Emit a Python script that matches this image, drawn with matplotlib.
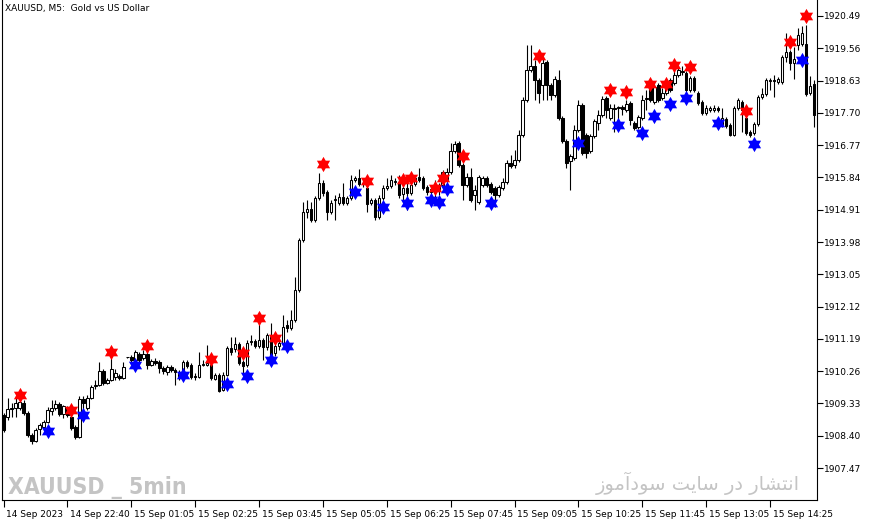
import matplotlib
matplotlib.use("Agg")
import matplotlib.pyplot as plt
import matplotlib.path as mpath
from matplotlib import font_manager
from matplotlib.transforms import ScaledTranslation
import numpy as np

# XAUUSD M5 bars
opens = [
    1909.00, 1908.94, 1909.17, 1909.20, 1909.20, 1909.34, 1909.06, 1908.42, 1908.25, 1908.60,
    1908.65, 1908.80, 1909.11, 1909.20, 1909.31, 1909.03, 1909.20, 1908.94, 1908.65, 1908.36,
    1909.46, 1909.20, 1909.49, 1909.84, 1909.86, 1910.27, 1909.92, 1910.01, 1910.09, 1910.12,
    1910.06, 1910.67, 1910.67, 1910.58, 1910.76, 1910.64, 1910.76, 1910.44, 1910.55, 1910.52,
    1910.35, 1910.24, 1910.38, 1910.29, 1910.24, 1910.24, 1910.52, 1910.44, 1910.12, 1910.09,
    1910.44, 1910.44, 1910.44, 1910.04, 1910.15, 1909.72, 1910.15, 1910.93, 1910.90, 1911.04,
    1910.52, 1910.44, 1911.10, 1911.13, 1910.99, 1911.16, 1910.96, 1911.30, 1910.79, 1910.99,
    1911.07, 1911.59, 1911.50, 1911.73, 1912.60, 1914.04, 1914.85, 1914.93, 1914.61, 1915.25,
    1915.68, 1915.42, 1914.85, 1915.19, 1915.10, 1915.27, 1915.10, 1915.25, 1915.77, 1915.82,
    1915.68, 1915.53, 1915.10, 1915.19, 1914.70, 1915.25, 1915.53, 1915.59, 1915.71, 1915.71,
    1915.36, 1915.53, 1915.39, 1915.65, 1915.85, 1915.82, 1915.56, 1915.42, 1915.62, 1915.48,
    1915.62, 1915.77, 1916.00, 1916.60, 1916.83, 1916.20, 1915.62, 1915.85, 1915.33, 1915.13,
    1915.62, 1915.82, 1915.65, 1915.53, 1915.33, 1915.53, 1915.71, 1916.26, 1916.20, 1916.34,
    1917.06, 1918.07, 1918.93, 1919.05, 1918.65, 1918.50, 1919.16, 1918.50, 1918.21, 1918.65,
    1917.55, 1916.89, 1916.31, 1916.40, 1917.21, 1917.93, 1917.06, 1916.60, 1917.03, 1917.41,
    1917.64, 1918.13, 1917.55, 1917.84, 1917.84, 1917.87, 1917.78, 1917.98, 1917.41, 1917.29,
    1917.55, 1918.10, 1918.50, 1918.01, 1918.50, 1918.13, 1918.27, 1918.65, 1918.56, 1918.79,
    1918.91, 1918.85, 1918.36, 1918.70, 1918.27, 1918.01, 1917.70, 1917.78, 1917.78, 1917.84,
    1917.35, 1917.52, 1917.35, 1917.06, 1917.84, 1918.01, 1917.55, 1917.15, 1917.12, 1917.38,
    1918.16, 1918.24, 1918.62, 1918.65, 1918.59, 1918.59, 1919.31, 1919.45, 1919.14, 1919.65,
    1919.68, 1919.68, 1918.27, 1918.53,
]
highs = [
    1909.06, 1909.49, 1909.34, 1909.49, 1909.52, 1909.43, 1909.11, 1908.48, 1908.62, 1908.77,
    1908.85, 1909.23, 1909.43, 1909.43, 1909.37, 1909.29, 1909.26, 1909.00, 1908.71, 1909.55,
    1909.55, 1909.57, 1909.86, 1910.01, 1910.53, 1910.32, 1910.06, 1910.64, 1910.32, 1910.18,
    1910.53, 1910.67, 1910.73, 1910.87, 1910.81, 1910.87, 1910.87, 1910.61, 1910.64, 1910.58,
    1910.41, 1910.44, 1910.44, 1910.35, 1910.29, 1910.58, 1910.58, 1910.50, 1910.21, 1910.81,
    1910.58, 1911.01, 1910.50, 1910.21, 1910.21, 1910.24, 1910.99, 1911.24, 1911.24, 1911.10,
    1910.58, 1911.16, 1911.30, 1911.19, 1911.65, 1911.22, 1911.36, 1911.65, 1911.07, 1911.22,
    1911.88, 1911.73, 1912.02, 1912.97, 1914.10, 1915.13, 1915.19, 1915.13, 1915.30, 1915.97,
    1915.77, 1915.48, 1915.19, 1915.33, 1915.39, 1915.68, 1915.30, 1915.91, 1915.88, 1916.08,
    1915.77, 1915.59, 1915.25, 1915.25, 1915.33, 1915.62, 1915.82, 1915.91, 1915.82, 1915.91,
    1915.77, 1915.68, 1915.71, 1915.91, 1916.11, 1915.88, 1915.62, 1915.59, 1915.77, 1915.68,
    1916.05, 1916.11, 1916.83, 1916.89, 1916.89, 1916.26, 1915.97, 1916.11, 1915.62, 1915.91,
    1915.88, 1915.88, 1915.71, 1915.59, 1915.62, 1915.82, 1916.34, 1916.49, 1916.63, 1917.21,
    1918.16, 1919.65, 1919.65, 1919.22, 1918.70, 1919.28, 1919.22, 1918.56, 1918.76, 1918.93,
    1917.61, 1916.95, 1916.52, 1917.35, 1918.07, 1917.98, 1917.12, 1917.09, 1917.52, 1917.78,
    1918.19, 1918.19, 1917.96, 1917.96, 1917.90, 1917.93, 1918.07, 1918.04, 1917.47, 1917.64,
    1918.21, 1918.36, 1918.56, 1918.53, 1918.56, 1918.42, 1918.65, 1918.70, 1918.93, 1919.05,
    1919.05, 1918.91, 1918.76, 1918.76, 1918.33, 1918.07, 1917.93, 1917.90, 1917.93, 1917.90,
    1917.84, 1917.58, 1917.41, 1917.90, 1918.13, 1918.07, 1917.61, 1917.21, 1917.44, 1918.21,
    1918.42, 1918.70, 1918.70, 1918.79, 1918.73, 1919.37, 1920.00, 1919.51, 1919.60, 1920.14,
    1920.20, 1920.23, 1918.76, 1918.65,
]
lows = [
    1908.51, 1908.85, 1908.94, 1908.94, 1909.14, 1909.00, 1908.36, 1908.16, 1908.22, 1908.42,
    1908.62, 1908.77, 1909.00, 1909.14, 1908.97, 1908.91, 1908.94, 1908.57, 1908.31, 1908.34,
    1909.14, 1909.14, 1909.46, 1909.75, 1909.84, 1909.86, 1909.89, 1909.98, 1910.01, 1910.01,
    1910.04, 1910.64, 1910.52, 1910.44, 1910.52, 1910.58, 1910.32, 1910.41, 1910.44, 1910.21,
    1910.18, 1910.15, 1910.24, 1909.86, 1910.01, 1910.18, 1910.35, 1910.04, 1910.01, 1910.06,
    1910.41, 1910.41, 1910.01, 1910.01, 1909.66, 1909.69, 1910.12, 1910.73, 1910.81, 1910.44,
    1910.15, 1910.38, 1911.01, 1910.93, 1910.93, 1910.58, 1910.87, 1910.67, 1910.70, 1910.87,
    1911.01, 1911.39, 1911.45, 1911.68, 1912.54, 1913.98, 1914.67, 1914.56, 1914.56, 1915.19,
    1915.30, 1914.61, 1914.79, 1914.61, 1915.04, 1915.04, 1915.04, 1915.19, 1915.71, 1915.59,
    1915.56, 1914.85, 1915.04, 1914.61, 1914.64, 1915.19, 1915.48, 1915.53, 1915.62, 1915.25,
    1915.19, 1914.90, 1915.33, 1915.59, 1915.71, 1915.48, 1915.33, 1915.13, 1915.27, 1915.33,
    1915.56, 1915.71, 1915.94, 1916.54, 1916.14, 1915.19, 1915.56, 1915.13, 1914.90, 1915.07,
    1915.56, 1915.56, 1915.36, 1914.99, 1915.27, 1915.48, 1915.65, 1916.11, 1916.11, 1916.29,
    1917.00, 1918.01, 1918.88, 1918.07, 1917.98, 1918.07, 1918.07, 1918.07, 1918.16, 1917.49,
    1916.83, 1916.11, 1915.48, 1916.34, 1917.15, 1916.49, 1916.40, 1916.54, 1916.98, 1917.21,
    1917.58, 1917.55, 1917.49, 1917.15, 1917.49, 1917.64, 1917.73, 1917.35, 1917.21, 1917.23,
    1917.49, 1917.78, 1918.01, 1917.96, 1918.01, 1918.07, 1918.21, 1918.30, 1918.50, 1918.73,
    1918.79, 1918.30, 1918.30, 1918.30, 1917.93, 1917.64, 1917.64, 1917.73, 1917.73, 1917.73,
    1917.29, 1917.26, 1917.03, 1917.03, 1917.78, 1917.15, 1917.06, 1917.00, 1917.06, 1917.32,
    1918.10, 1918.19, 1918.36, 1918.16, 1918.53, 1918.53, 1919.16, 1918.93, 1918.68, 1919.51,
    1919.63, 1918.18, 1918.21, 1917.29,
]
closes = [
    1908.57, 1909.17, 1909.20, 1909.34, 1909.37, 1909.06, 1908.42, 1908.25, 1908.57, 1908.71,
    1908.80, 1909.14, 1909.20, 1909.31, 1909.03, 1909.26, 1909.00, 1908.62, 1908.36, 1909.46,
    1909.34, 1909.49, 1909.81, 1909.86, 1910.27, 1909.92, 1910.01, 1910.32, 1910.21, 1910.06,
    1910.38, 1910.67, 1910.58, 1910.81, 1910.58, 1910.76, 1910.44, 1910.55, 1910.50, 1910.35,
    1910.27, 1910.38, 1910.29, 1910.24, 1910.06, 1910.52, 1910.41, 1910.09, 1910.09, 1910.44,
    1910.47, 1910.50, 1910.06, 1910.15, 1909.69, 1910.15, 1910.93, 1910.81, 1911.04, 1910.50,
    1910.41, 1911.07, 1911.12, 1910.99, 1911.16, 1910.96, 1911.30, 1910.73, 1910.99, 1911.07,
    1911.53, 1911.50, 1911.73, 1912.60, 1914.04, 1914.85, 1914.93, 1914.61, 1915.25, 1915.68,
    1915.39, 1914.85, 1915.10, 1915.22, 1915.27, 1915.10, 1915.25, 1915.77, 1915.82, 1915.65,
    1915.65, 1915.07, 1915.19, 1914.70, 1915.25, 1915.53, 1915.59, 1915.77, 1915.73, 1915.33,
    1915.53, 1915.39, 1915.62, 1915.82, 1915.77, 1915.53, 1915.42, 1915.51, 1915.42, 1915.59,
    1916.00, 1916.00, 1916.60, 1916.80, 1916.20, 1915.62, 1915.85, 1915.19, 1915.48, 1915.85,
    1915.82, 1915.62, 1915.42, 1915.33, 1915.56, 1915.71, 1916.26, 1916.17, 1916.34, 1917.06,
    1918.07, 1918.93, 1919.05, 1918.65, 1918.27, 1919.14, 1918.50, 1918.21, 1918.67, 1917.55,
    1916.89, 1916.26, 1916.46, 1917.21, 1917.93, 1916.54, 1916.54, 1917.03, 1917.47, 1917.64,
    1918.10, 1917.78, 1917.84, 1917.82, 1917.86, 1917.81, 1917.96, 1917.49, 1917.26, 1917.58,
    1918.07, 1918.13, 1918.07, 1918.44, 1918.07, 1918.27, 1918.59, 1918.36, 1918.79, 1918.93,
    1918.88, 1918.36, 1918.70, 1918.36, 1917.98, 1917.70, 1917.84, 1917.84, 1917.84, 1917.78,
    1917.55, 1917.32, 1917.06, 1917.84, 1918.07, 1917.78, 1917.12, 1917.06, 1917.38, 1918.16,
    1918.24, 1918.65, 1918.65, 1918.63, 1918.68, 1919.31, 1919.45, 1919.14, 1919.25, 1919.94,
    1920.00, 1918.24, 1918.47, 1917.64,
]

# indicator arrows (bar index, price)
red_idx = [4, 17, 27, 36, 52, 60, 64, 68, 80, 91, 100, 102, 108, 110, 115,
           134, 152, 156, 162, 166, 168, 172, 186, 197, 201]
red_price = [1909.57, 1909.14, 1910.81, 1910.99, 1910.61, 1910.78, 1911.79, 1911.22,
             1916.23, 1915.74, 1915.77, 1915.82, 1915.54, 1915.82, 1916.46, 1919.34,
             1918.36, 1918.30, 1918.53, 1918.53, 1919.08, 1919.02, 1917.75, 1919.74, 1920.49]
blue_idx = [11, 20, 33, 45, 56, 61, 67, 71, 88, 95, 101, 107, 109, 111, 122,
            144, 154, 160, 163, 167, 171, 179, 188, 200]
blue_price = [1908.54, 1909.00, 1910.44, 1910.15, 1909.89, 1910.12, 1910.58, 1910.99,
              1915.42, 1914.99, 1915.10, 1915.19, 1915.13, 1915.51, 1915.10, 1916.83,
              1917.35, 1917.12, 1917.61, 1917.95, 1918.13, 1917.41, 1916.80, 1919.22]

price_ticks = [1920.49, 1919.56, 1918.63, 1917.70, 1916.77, 1915.84, 1914.91, 1913.98,
               1913.05, 1912.12, 1911.19, 1910.26, 1909.33, 1908.40, 1907.47]
time_idx = [0, 16, 32, 48, 64, 80, 96, 112, 128, 144, 160, 176, 192]
time_labels = ["14 Sep 2023", "14 Sep 22:40", "15 Sep 01:05", "15 Sep 02:25",
               "15 Sep 03:45", "15 Sep 05:05", "15 Sep 06:25", "15 Sep 07:45",
               "15 Sep 09:05", "15 Sep 10:25", "15 Sep 11:45", "15 Sep 13:05",
               "15 Sep 14:25"]

o = np.array(opens)
h = np.array(highs)
l = np.array(lows)
c = np.array(closes)
x = np.arange(len(o))

fig = plt.figure(figsize=(8.71, 5.22), dpi=100)
ax = fig.add_axes([2 / 871, 1 - 500 / 522, 815 / 871, 500 / 522])

# wicks
ax.vlines(x, l, h, color="black", linewidth=0.8, zorder=2)
# bodies
up = c >= o
ax.bar(x[up], c[up] - o[up], bottom=o[up], width=0.62, color="white",
       edgecolor="black", linewidth=0.75, zorder=3)
ax.bar(x[~up], o[~up] - c[~up], bottom=c[~up], width=0.62, color="black",
       edgecolor="black", linewidth=0.75, zorder=3)

# six pointed star marker
verts = []
for k in range(6):
    a = np.radians(90 + 60 * k)
    verts.append((np.cos(a), np.sin(a)))
    b = np.radians(120 + 60 * k)
    verts.append((0.577 * np.cos(b), 0.577 * np.sin(b)))
verts.append(verts[0])
codes = [mpath.Path.MOVETO] + [mpath.Path.LINETO] * 11 + [mpath.Path.CLOSEPOLY]
star = mpath.Path(verts, codes)

ax.plot(red_idx, red_price, linestyle="none", marker=star, markersize=11,
        color="#ff0000", markeredgewidth=0, zorder=5)
ax.plot(blue_idx, blue_price, linestyle="none", marker=star, markersize=11,
        color="#0000ff", markeredgewidth=0, zorder=5)

ax.set_xlim(-0.4, 203.75)
ax.set_ylim(1906.55, 1920.95)

ax.spines["top"].set_visible(False)
for s in ["left", "right", "bottom"]:
    ax.spines[s].set_linewidth(0.8)

ax.yaxis.tick_right()
ax.set_yticks(price_ticks)
ax.set_yticklabels(["%.2f" % p for p in price_ticks])
ax.tick_params(axis="y", direction="out", length=4, width=0.8, labelsize=6.5, pad=1)

ax.set_xticks(time_idx)
ax.set_xticklabels(time_labels)
ax.tick_params(axis="x", direction="out", length=5, width=0.8, labelsize=6.5, pad=2)
shift = ScaledTranslation(2 / 72, 0, fig.dpi_scale_trans)
for lab in ax.get_xticklabels():
    lab.set_horizontalalignment("left")
    lab.set_transform(lab.get_transform() + shift)

ax.text(0.004, 0.992, "XAUUSD, M5:  Gold vs US Dollar", transform=ax.transAxes,
        fontsize=6.5, va="top", ha="left")

# watermarks - look for a narrow bold face, else fall back to DejaVu
narrow = None
for f in font_manager.fontManager.ttflist:
    if "Narrow" in f.name or "Condensed" in f.name or "condensed" in str(f.stretch):
        narrow = f
        break
if narrow is not None:
    fig.text(8 / 871, 1 - 494 / 522, "XAUUSD _ 5min", family=narrow.name,
             stretch=narrow.stretch, weight="bold", fontsize=16.5, color="#c4c4c4",
             ha="left", va="baseline")
else:
    fig.text(8 / 871, 1 - 494 / 522, "XAUUSD _ 5min", family="DejaVu Sans",
             weight="bold", fontsize=16, color="#c4c4c4", ha="left", va="baseline")

fa = ("\uFEAF\uFEEE\uFEE3\uFE81\uFEA9\uFEEE\uFEB3 \uFE96\uFEF3\uFE8E\uFEB3 "
      "\uFEAD\uFEA9 \uFEAD\uFE8E\uFEB8\uFE98\uFEE7\uFE8D")
fig.text(800 / 871, 1 - 483 / 522, fa, family="DejaVu Sans", fontsize=14,
         color="#c4c4c4", ha="right", va="center")

fig.savefig("out.png", dpi=100)
